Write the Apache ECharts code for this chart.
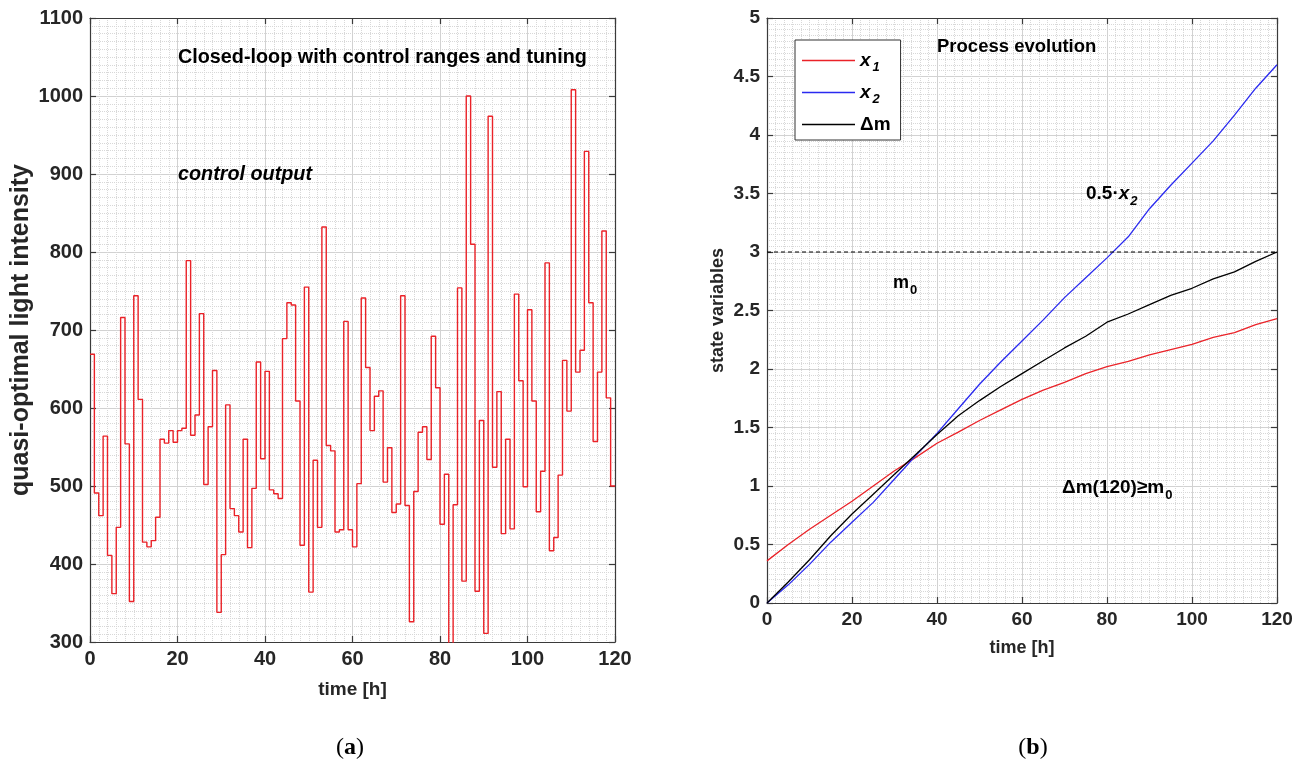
<!DOCTYPE html>
<html><head><meta charset="utf-8">
<script src="https://cdn.jsdelivr.net/npm/echarts@6/dist/echarts.min.js"></script>
<style>html,body{margin:0;padding:0;background:#fff}#c{width:1297px;height:766px}</style>
</head><body><div id="c"></div>
<script>
// ---- Panel (a): control output, one value per hour ----
const controlOutput = [
  669,491,462,564,411,362,447,716,554,352,
  744,611,428,422,430,460,560,555,571,556,
  571,574,789,565,591,721,502,576,648,338,
  412,604,471,462,441,560,421,497,659,535,
  647,495,490,484,689,735,732,609,424,755,
  364,533,447,832,552,545,441,444,711,444,
  422,503,741,652,571,615,622,505,549,466,
  477,744,475,326,493,569,576,534,692,626,
  451,515,290,476,754,378,1000,810,365,584,
  311,974,524,621,439,560,445,746,635,499,
  726,609,467,519,786,417,434,514,661,596,
  1008,646,674,929,735,557,646,827,613,500
];
const xTicksA = [0,20,40,60,80,100,120];
const yTicksA = [300,400,500,600,700,800,900,1000,1100];

// ---- Panel (b): state variables ----
const timeB  = [0,5,10,15,20,25,30,35,40,45,50,55,60,65,70,75,80,85,90,95,100,105,110,115,120];
const x1     = [0.36,0.50,0.63,0.75,0.87,1.00,1.13,1.245,1.365,1.46,1.56,1.65,1.74,1.82,1.885,1.96,2.02,2.065,2.12,2.165,2.21,2.27,2.31,2.38,2.43];
const x2     = [0,0.155,0.33,0.52,0.69,0.86,1.06,1.26,1.45,1.66,1.87,2.06,2.24,2.42,2.61,2.78,2.95,3.13,3.37,3.57,3.76,3.95,4.17,4.40,4.60];
const deltaM = [0,0.18,0.37,0.575,0.76,0.93,1.10,1.27,1.44,1.60,1.73,1.85,1.96,2.07,2.18,2.28,2.40,2.47,2.55,2.63,2.69,2.77,2.83,2.92,3.00];
const m0 = 3;
const xTicksB = [0,20,40,60,80,100,120];
const yTicksB = [0,0.5,1,1.5,2,2.5,3,3.5,4,4.5,5];

const FONT = '"Liberation Sans", Arial, sans-serif';
const AX = '#3a3a3a';
const LBL = '#262626';
const RED = '#ea2228', BLUE = '#2a2af0', BLACK = '#000000';

function mainAxis(gridIndex, position, ticks, fs, extra) {
  return Object.assign({
    type: 'value', gridIndex: gridIndex, position: position,
    min: ticks[0], max: ticks[ticks.length - 1], interval: ticks[1] - ticks[0],
    axisLine: {show: true, onZero: false, lineStyle: {color: AX, width: 1.2}},
    axisTick: {show: true, inside: true, length: 6, lineStyle: {color: AX, width: 1.2}},
    axisLabel: {show: true, color: LBL, fontFamily: FONT, fontWeight: 'bold', fontSize: fs, margin: 7,
      formatter: function (v) { return String(v); }},
    splitLine: {show: true, lineStyle: {color: '#d2d2d2', width: 1}},
    minorTick: {show: false, splitNumber: 10},
    minorSplitLine: {show: true, lineStyle: {color: '#d8d8d8', width: 1, type: [1, 1]}},
    nameMoveOverlap: false
  }, extra || {});
}
function mirrorAxis(gridIndex, position, ticks) {
  return {
    type: 'value', gridIndex: gridIndex, position: position,
    min: ticks[0], max: ticks[ticks.length - 1], interval: ticks[1] - ticks[0],
    axisLine: {show: true, onZero: false, lineStyle: {color: AX, width: 1.2}},
    axisTick: {show: true, inside: true, length: 6, lineStyle: {color: AX, width: 1.2}},
    axisLabel: {show: false}, splitLine: {show: false}
  };
}
function nameStyle(fs) { return {color: LBL, fontFamily: FONT, fontWeight: 'bold', fontSize: fs}; }

const stepData = controlOutput.map((v, i) => [i, v]);
stepData.push([controlOutput.length, controlOutput[controlOutput.length - 1]]);
const pairs = (ys) => ys.map((v, i) => [timeB[i], v]);

const sub = (fs, pad) => ({fontFamily: FONT, fontWeight: 'bold', fontSize: fs, padding: [pad, 0, 0, 1], fill: '#000'});

const chart = echarts.init(document.getElementById('c'), null, {renderer: 'canvas'});
chart.setOption({
  backgroundColor: '#ffffff',
  animation: false,
  grid: [
    {left: 90, top: 18, width: 525, height: 624},
    {left: 767, top: 18, width: 510, height: 585}
  ],
  xAxis: [
    mainAxis(0, 'bottom', xTicksA, 20, {name: 'time [h]', nameLocation: 'middle', nameGap: 38, nameTextStyle: nameStyle(19)}),
    mirrorAxis(0, 'top', xTicksA),
    mainAxis(1, 'bottom', xTicksB, 19, {name: 'time [h]', nameLocation: 'middle', nameGap: 36, nameTextStyle: nameStyle(18)}),
    mirrorAxis(1, 'top', xTicksB)
  ],
  yAxis: [
    mainAxis(0, 'left', yTicksA, 20, {name: 'quasi-optimal light intensity', nameLocation: 'middle', nameGap: 56, nameTextStyle: nameStyle(25)}),
    mirrorAxis(0, 'right', yTicksA),
    mainAxis(1, 'left', yTicksB, 19, {name: 'state variables', nameLocation: 'middle', nameGap: 40, nameTextStyle: nameStyle(18)}),
    mirrorAxis(1, 'right', yTicksB)
  ],
  legend: {
    data: [{name: 'x1', icon: 'rect'}, {name: 'x2', icon: 'rect'}, {name: 'Δm', icon: 'rect'}],
    orient: 'vertical', left: 795, top: 40,
    itemWidth: 53, itemHeight: 1.6, itemGap: 9,
    padding: [11, 10, 6, 7],
    borderColor: '#333', borderWidth: 1, backgroundColor: '#fff',
    textStyle: {
      fontFamily: FONT, fontWeight: 'bold', fontSize: 19, color: '#000',
      rich: {
        i: {fontFamily: FONT, fontWeight: 'bold', fontStyle: 'italic', fontSize: 19, lineHeight: 27, color: '#000'},
        s: {fontFamily: FONT, fontWeight: 'bold', fontStyle: 'italic', fontSize: 13, padding: [14, 0, 0, 2], color: '#000'},
        n: {fontFamily: FONT, fontWeight: 'bold', fontSize: 19, lineHeight: 27, color: '#000'}
      }
    },
    formatter: function (name) {
      if (name === 'x1') return '{i|x}{s|1}';
      if (name === 'x2') return '{i|x}{s|2}';
      return '{n|' + name + '}';
    }
  },
  series: [
    {name: 'control output', type: 'line', step: 'end', xAxisIndex: 0, yAxisIndex: 0,
      data: stepData, showSymbol: false, symbol: 'none', clip: true,
      lineStyle: {color: RED, width: 1.4}, itemStyle: {color: RED}},
    {name: 'x1', type: 'line', xAxisIndex: 2, yAxisIndex: 2, data: pairs(x1), symbol: 'none',
      lineStyle: {color: RED, width: 1.3}, itemStyle: {color: RED}},
    {name: 'x2', type: 'line', xAxisIndex: 2, yAxisIndex: 2, data: pairs(x2), symbol: 'none',
      lineStyle: {color: BLUE, width: 1.3}, itemStyle: {color: BLUE}},
    {name: 'Δm', type: 'line', xAxisIndex: 2, yAxisIndex: 2, data: pairs(deltaM), symbol: 'none',
      lineStyle: {color: BLACK, width: 1.3}, itemStyle: {color: BLACK}},
    {name: 'm0', type: 'line', xAxisIndex: 2, yAxisIndex: 2, data: [[xTicksB[0], m0], [xTicksB[xTicksB.length - 1], m0]],
      symbol: 'none', lineStyle: {color: BLACK, width: 1, type: [4, 3]}}
  ],
  graphic: [
    {type: 'text', x: 178, y: 58, z: 10, style: {text: 'Closed-loop with control ranges and tuning',
      fontFamily: FONT, fontWeight: 'bold', fontSize: 19.8, fill: '#000', verticalAlign: 'middle'}},
    {type: 'text', x: 178, y: 175, z: 10, style: {text: 'control output',
      fontFamily: FONT, fontWeight: 'bold', fontStyle: 'italic', fontSize: 19.8, fill: '#000', verticalAlign: 'middle'}},
    {type: 'text', x: 937, y: 47, z: 10, style: {text: 'Process evolution',
      fontFamily: FONT, fontWeight: 'bold', fontSize: 18.5, fill: '#000', verticalAlign: 'middle'}},
    {type: 'text', x: 1086, y: 194, z: 10, style: {text: '{a|0.5·}{b|x}{c|2}', verticalAlign: 'middle', fill: '#000',
      rich: {
        a: {fontFamily: FONT, fontWeight: 'bold', fontSize: 19, lineHeight: 28},
        b: {fontFamily: FONT, fontWeight: 'bold', fontStyle: 'italic', fontSize: 19, lineHeight: 28},
        c: Object.assign(sub(13, 14), {fontStyle: 'italic'})
      }}},
    {type: 'text', x: 893, y: 283, z: 10, style: {text: '{a|m}{c|0}', verticalAlign: 'middle', fill: '#000',
      rich: {
        a: {fontFamily: FONT, fontWeight: 'bold', fontSize: 18, lineHeight: 27},
        c: sub(13, 14)
      }}},
    {type: 'text', x: 1062, y: 488, z: 10, style: {text: '{a|Δm(120)≥m}{c|0}', verticalAlign: 'middle', fill: '#000',
      rich: {
        a: {fontFamily: FONT, fontWeight: 'bold', fontSize: 19, lineHeight: 28},
        c: sub(13, 14)
      }}},
    {type: 'text', x: 350, y: 748, z: 10, style: {text: '{n|(}{b|a}{n|)}', align: 'center', verticalAlign: 'middle', fill: '#000',
      rich: {
        n: {fontFamily: '"Liberation Serif", serif', fontSize: 24},
        b: {fontFamily: '"Liberation Serif", serif', fontWeight: 'bold', fontSize: 24}
      }}},
    {type: 'text', x: 1033, y: 748, z: 10, style: {text: '{n|(}{b|b}{n|)}', align: 'center', verticalAlign: 'middle', fill: '#000',
      rich: {
        n: {fontFamily: '"Liberation Serif", serif', fontSize: 24},
        b: {fontFamily: '"Liberation Serif", serif', fontWeight: 'bold', fontSize: 24}
      }}}
  ]
});
</script></body></html>
